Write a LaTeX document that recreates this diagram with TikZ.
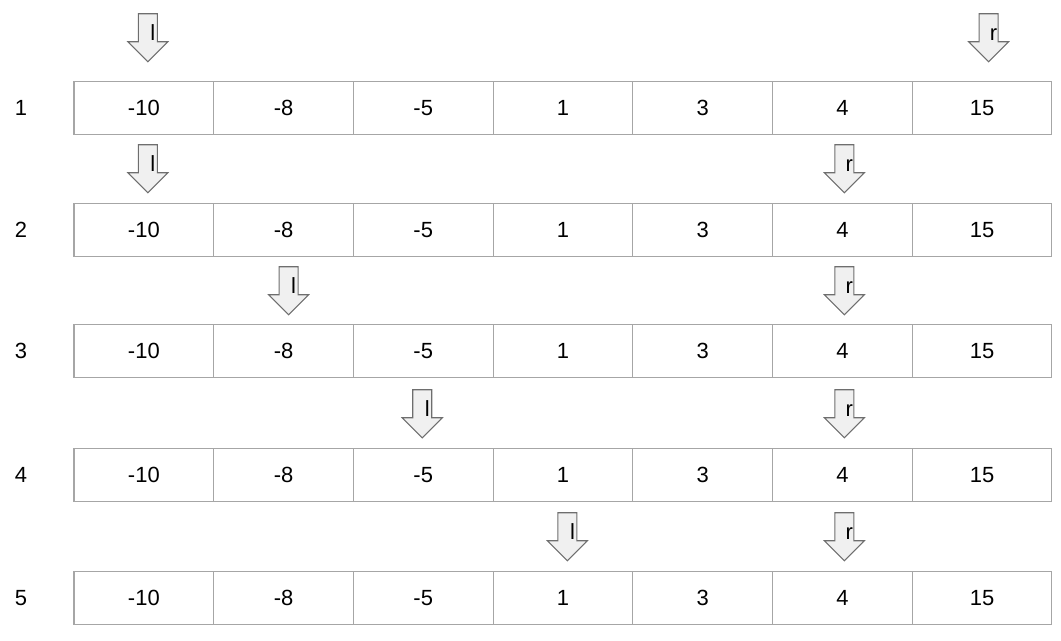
\documentclass[tikz,border=0pt]{standalone}
\usepackage{fontspec}
\setmainfont{Liberation Sans}
\usetikzlibrary{calc}
\definecolor{cellgray}{HTML}{A6A6A6}
\definecolor{ptrgray}{HTML}{6E6E6E}
\definecolor{ptrfill}{HTML}{F0F0F0}

\begin{document}
\begin{tikzpicture}[x=0.02cm, y=-0.02cm,
  cell/.style={draw=cellgray, line width=0.6pt, minimum width=2.794cm, minimum height=1.05cm,
    inner sep=0pt, outer sep=0pt, font=\fontsize{12.5}{14}\selectfont},
  rowlabel/.style={font=\fontsize{12.5}{14}\selectfont},
  ptrshape/.style={draw=ptrgray, fill=ptrfill, line width=0.6pt, line join=miter},
  pics/ptr/.style={code={
    \draw[ptrshape] (-9.5,0) -- (9.5,0) -- (9.5,28) -- (20,28) -- (0,48) -- (-20,28) -- (-9.5,28) -- cycle;
    \node[anchor=base, inner sep=0pt, font=\fontsize{12.5}{14}\selectfont] (txt) at (5,27) {#1};
  }}]
  \useasboundingbox (0,0) rectangle (1061,640);

  % the array, one row per step
  \foreach \r/\y in {1/82,2/204,3/325,4/449,5/572} {
    \node[rowlabel] (n\r) at (21,\y+26) {\r};
    \foreach \v [count=\c] in {-10,-8,-5,1,3,4,15}
      \node[cell] (c-\r-\c) at ({74+(\c-0.5)*139.7},\y+26) {\v};
  }

  % l and r pointers above the rows
  \foreach \r/\c/\t/\dx/\dy in {1/1/l/4/-68, 1/7/r/6.5/-68,
                                2/1/l/4/-59, 2/6/r/2/-59,
                                3/2/l/5/-58, 3/6/r/2/-58,
                                4/3/l/-1/-59, 4/6/r/2/-59,
                                5/4/l/4.5/-59, 5/6/r/2/-59}
    \pic (p-\r-\t) at ($(c-\r-\c.north)+(\dx,\dy)$) {ptr=\t};
\end{tikzpicture}
\end{document}
